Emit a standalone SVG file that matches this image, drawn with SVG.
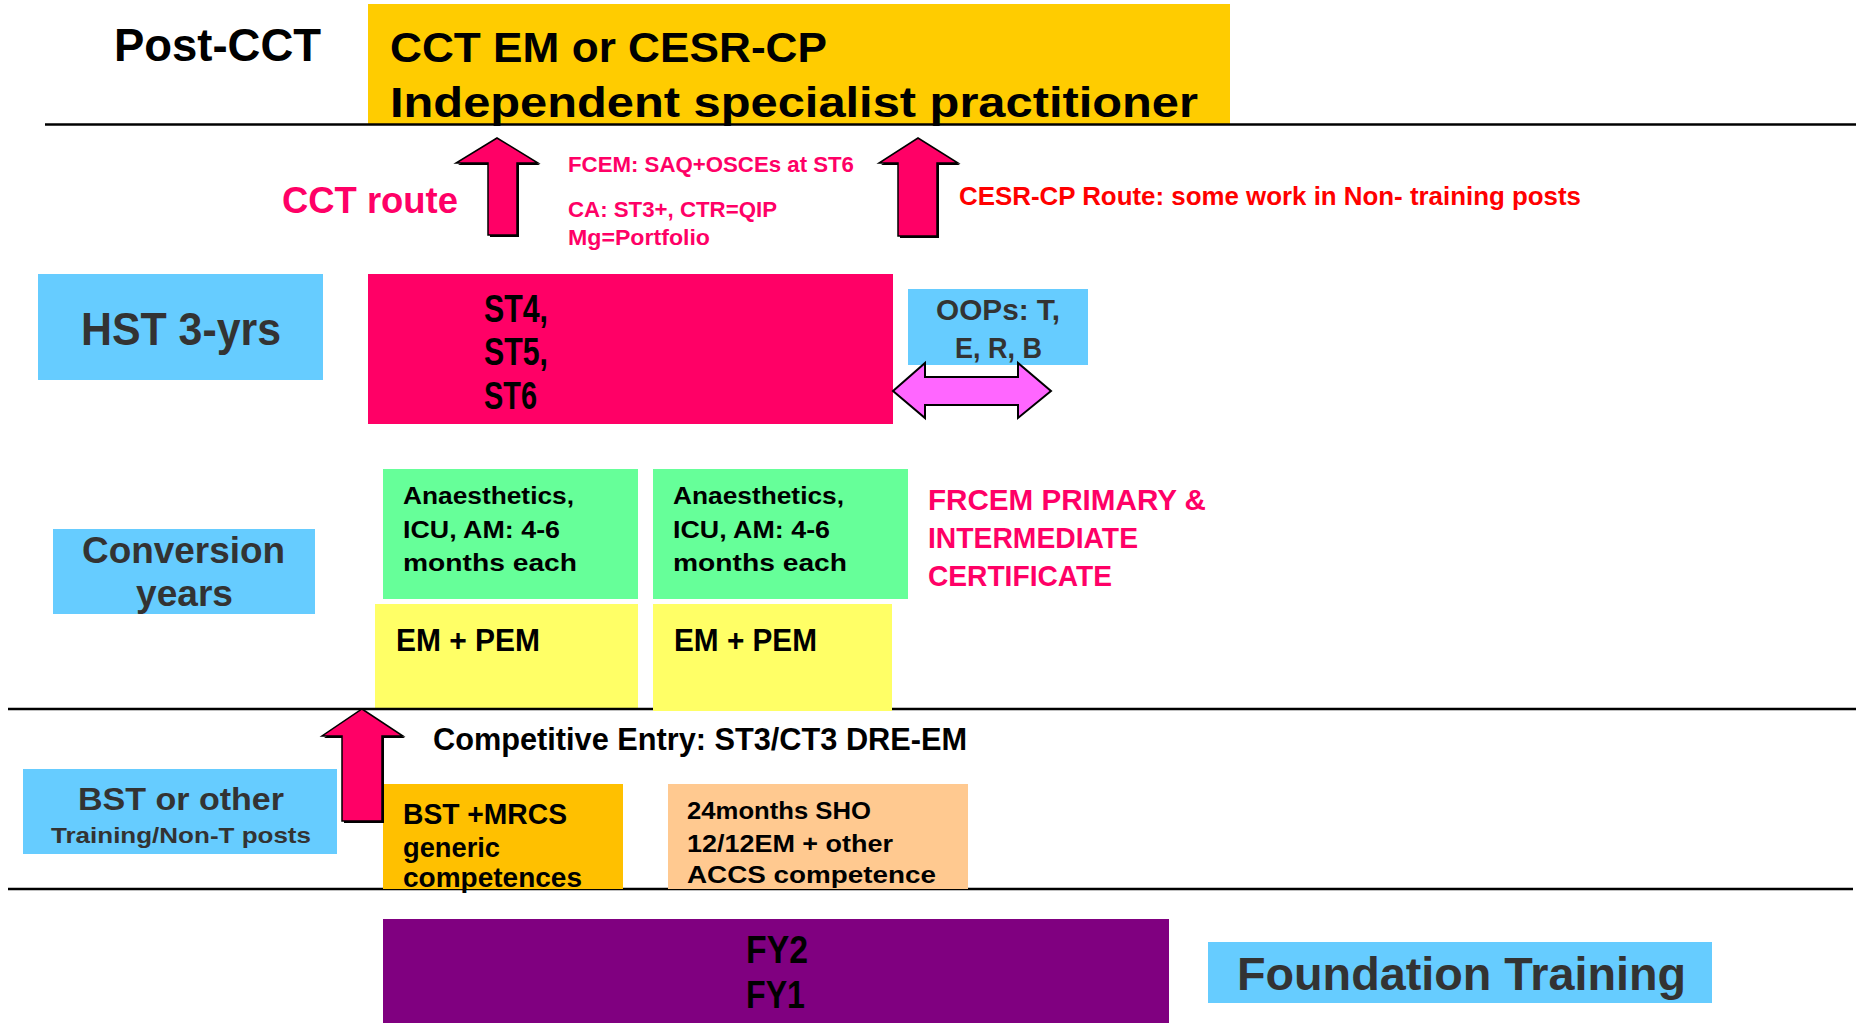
<svg xmlns="http://www.w3.org/2000/svg" width="1856" height="1023" viewBox="0 0 1856 1023">
<style>
text{font-family:"Liberation Sans",Arial,sans-serif;font-weight:bold;}
.blk{fill:#000;}
.gry{fill:#333;}
.pnk{fill:#FF0066;}
.red{fill:#FF0000;}
.rule{stroke:#000;stroke-width:2.5;}
.arrow{fill:#FF0066;stroke:#000;stroke-width:1.5;stroke-linejoin:miter;}
.shadow{fill:#000;}
.darrow{fill:#FF66FF;stroke:#000;stroke-width:2;}
.blue{fill:#66CCFF;}
</style>
<defs>
<polygon id="up-arrow" points="0,0 41,25 20,25 20,97 -9,97 -9,25 -41,25"/>
</defs>
<rect width="1856" height="1023" fill="#fff"/>

<g id="post-cct-box">
<rect x="368" y="4" width="862" height="120" fill="#FFCC00"/>
</g>
<g id="rules">
<line class="rule" x1="45" y1="124.5" x2="1856" y2="124.5"/>
</g>
<g id="post-cct-text">
<text class="blk" x="114" y="61" font-size="46" textLength="207" lengthAdjust="spacingAndGlyphs">Post-CCT</text>
<text class="blk" x="390" y="62" font-size="42" textLength="437" lengthAdjust="spacingAndGlyphs">CCT EM or CESR-CP</text>
<text class="blk" x="390" y="117" font-size="42" textLength="808" lengthAdjust="spacingAndGlyphs">Independent specialist practitioner</text>
</g>

<g id="cct-route">
<text class="pnk" x="282" y="213" font-size="36" textLength="176" lengthAdjust="spacingAndGlyphs">CCT route</text>
<text class="pnk" x="568" y="172" font-size="22" textLength="286" lengthAdjust="spacingAndGlyphs">FCEM: SAQ+OSCEs at ST6</text>
<text class="pnk" x="568" y="217" font-size="22" textLength="209" lengthAdjust="spacingAndGlyphs">CA: ST3+, CTR=QIP</text>
<text class="pnk" x="568" y="245" font-size="22" textLength="142" lengthAdjust="spacingAndGlyphs">Mg=Portfolio</text>
</g>
<g id="cesr-route">
<text class="red" x="959" y="205" font-size="26" textLength="622" lengthAdjust="spacingAndGlyphs">CESR-CP Route: some work in Non- training posts</text>
</g>

<g id="hst-label">
<rect class="blue" x="38" y="274" width="285" height="106"/>
<text class="gry" x="81" y="345" font-size="46" textLength="200" lengthAdjust="spacingAndGlyphs">HST 3-yrs</text>
</g>
<g id="st-box">
<rect x="368" y="274" width="525" height="150" fill="#FF0066"/>
<text class="blk" x="484" y="322" font-size="39" textLength="64" lengthAdjust="spacingAndGlyphs">ST4,</text>
<text class="blk" x="484" y="365" font-size="39" textLength="64" lengthAdjust="spacingAndGlyphs">ST5,</text>
<text class="blk" x="484" y="409" font-size="39" textLength="53" lengthAdjust="spacingAndGlyphs">ST6</text>
</g>
<g id="oops">
<rect class="blue" x="908" y="289" width="180" height="76"/>
<text class="gry" x="936" y="320" font-size="30" textLength="124" lengthAdjust="spacingAndGlyphs">OOPs: T,</text>
<text class="gry" x="955" y="358" font-size="30" textLength="87" lengthAdjust="spacingAndGlyphs">E, R, B</text>
</g>

<g id="conversion-label">
<rect class="blue" x="53" y="529" width="262" height="85"/>
<text class="gry" x="82" y="563" font-size="36" textLength="203" lengthAdjust="spacingAndGlyphs">Conversion</text>
<text class="gry" x="136" y="606" font-size="36" textLength="97" lengthAdjust="spacingAndGlyphs">years</text>
</g>
<g id="accs-1">
<rect x="383" y="469" width="255" height="130" fill="#66FF99"/>
<text class="blk" x="403" y="504" font-size="23" textLength="171" lengthAdjust="spacingAndGlyphs">Anaesthetics,</text>
<text class="blk" x="403" y="538" font-size="23" textLength="157" lengthAdjust="spacingAndGlyphs">ICU, AM: 4-6</text>
<text class="blk" x="403" y="571" font-size="23" textLength="174" lengthAdjust="spacingAndGlyphs">months each</text>
</g>
<g id="accs-2">
<rect x="653" y="469" width="255" height="130" fill="#66FF99"/>
<text class="blk" x="673" y="504" font-size="23" textLength="171" lengthAdjust="spacingAndGlyphs">Anaesthetics,</text>
<text class="blk" x="673" y="538" font-size="23" textLength="157" lengthAdjust="spacingAndGlyphs">ICU, AM: 4-6</text>
<text class="blk" x="673" y="571" font-size="23" textLength="174" lengthAdjust="spacingAndGlyphs">months each</text>
</g>
<g id="em-pem-1">
<rect x="375" y="604" width="263" height="105" fill="#FFFF66"/>
</g>
<g id="rules-mid">
<line class="rule" x1="8" y1="709" x2="1856" y2="709"/>
</g>
<g id="em-pem-1-text">
<text class="blk" x="396" y="651" font-size="32" textLength="144" lengthAdjust="spacingAndGlyphs">EM + PEM</text>
</g>
<g id="em-pem-2">
<rect x="653" y="604" width="239" height="107" fill="#FFFF66"/>
<text class="blk" x="674" y="651" font-size="32" textLength="143" lengthAdjust="spacingAndGlyphs">EM + PEM</text>
</g>
<g id="frcem">
<text class="pnk" x="928" y="510" font-size="30" textLength="278" lengthAdjust="spacingAndGlyphs">FRCEM PRIMARY &amp;</text>
<text class="pnk" x="928" y="548" font-size="30" textLength="210" lengthAdjust="spacingAndGlyphs">INTERMEDIATE</text>
<text class="pnk" x="928" y="586" font-size="30" textLength="184" lengthAdjust="spacingAndGlyphs">CERTIFICATE</text>
</g>

<g id="competitive-entry">
<text class="blk" x="433" y="750" font-size="32" textLength="534" lengthAdjust="spacingAndGlyphs">Competitive Entry: ST3/CT3 DRE-EM</text>
</g>
<g id="rules-low">
<line class="rule" x1="8" y1="889" x2="1853" y2="889"/>
</g>
<g id="bst-label">
<rect class="blue" x="23" y="769" width="314" height="85"/>
<text class="gry" x="78" y="810" font-size="32" textLength="206" lengthAdjust="spacingAndGlyphs">BST or other</text>
<text class="gry" x="51" y="843" font-size="22" textLength="260" lengthAdjust="spacingAndGlyphs">Training/Non-T posts</text>
</g>
<g id="bst-mrcs">
<rect x="383" y="784" width="240" height="105" fill="#FFC000"/>
<text class="blk" x="403" y="824" font-size="29" textLength="164" lengthAdjust="spacingAndGlyphs">BST +MRCS</text>
<text class="blk" x="403" y="857" font-size="27" textLength="97" lengthAdjust="spacingAndGlyphs">generic</text>
<text class="blk" x="403" y="887" font-size="27" textLength="179" lengthAdjust="spacingAndGlyphs">competences</text>
</g>
<g id="sho">
<rect x="668" y="784" width="300" height="105" fill="#FFC990"/>
<text class="blk" x="687" y="819" font-size="24" textLength="184" lengthAdjust="spacingAndGlyphs">24months SHO</text>
<text class="blk" x="687" y="852" font-size="24" textLength="206" lengthAdjust="spacingAndGlyphs">12/12EM + other</text>
<text class="blk" x="687" y="883" font-size="24" textLength="249" lengthAdjust="spacingAndGlyphs">ACCS competence</text>
</g>

<g id="foundation-box">
<rect x="383" y="919" width="786" height="104" fill="#800080"/>
<text class="blk" x="746" y="963" font-size="38" textLength="62" lengthAdjust="spacingAndGlyphs">FY2</text>
<text class="blk" x="746" y="1008" font-size="38" textLength="59" lengthAdjust="spacingAndGlyphs">FY1</text>
</g>
<g id="foundation-label">
<rect class="blue" x="1208" y="942" width="504" height="61"/>
<text class="gry" x="1237" y="990" font-size="47" textLength="449" lengthAdjust="spacingAndGlyphs">Foundation Training</text>
</g>

<g id="connectors">
<use href="#up-arrow" class="shadow" x="499" y="140"/>
<use href="#up-arrow" class="arrow" x="497" y="138"/>
<polygon class="shadow" points="920,140 960,165 939,165 939,238 900,238 900,165 881,165"/>
<polygon class="arrow" points="918,138 958,163 937,163 937,236 898,236 898,163 879,163"/>
<polygon class="shadow" points="364,711 405,738 384,738 384,823 344,823 344,738 324,738"/>
<polygon class="arrow" points="362,709 403,736 382,736 382,821 342,821 342,736 322,736"/>
<polygon class="darrow" points="893,391 925,363 925,377 1018,377 1018,363 1051,391 1018,418 1018,405 925,405 925,418"/>
</g>
</svg>
